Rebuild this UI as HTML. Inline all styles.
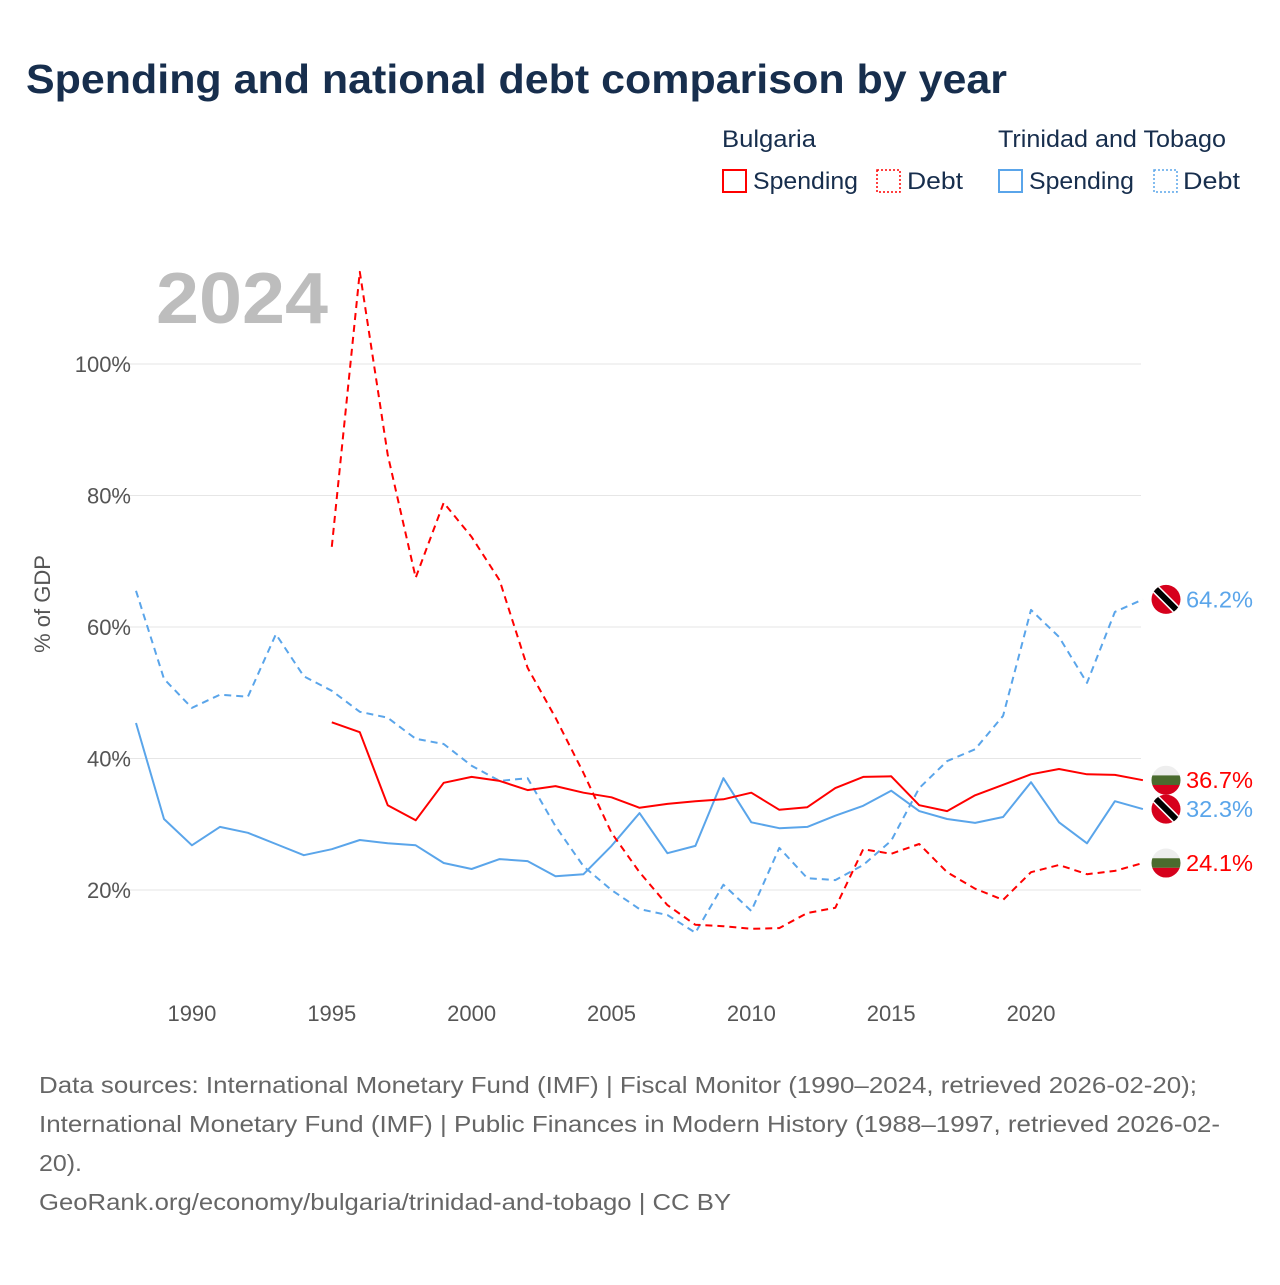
<!DOCTYPE html>
<html><head><meta charset="utf-8"><style>
body{margin:0;width:1280px;height:1280px;background:#fff;font-family:"Liberation Sans",sans-serif;overflow:hidden}
</style></head><body>
<svg id="chart" width="1280" height="1280" xmlns="http://www.w3.org/2000/svg" font-family="Liberation Sans, sans-serif">
<defs>
<clipPath id="cc"><circle cx="0" cy="0" r="14.5"/></clipPath>
</defs>
<text x="26" y="93" font-size="41" font-weight="bold" fill="#172e4d" textLength="981" lengthAdjust="spacingAndGlyphs">Spending and national debt comparison by year</text>
<g font-size="24" fill="#172e4d">
<text x="722" y="147" textLength="94" lengthAdjust="spacingAndGlyphs">Bulgaria</text>
<text x="998" y="147" textLength="228" lengthAdjust="spacingAndGlyphs">Trinidad and Tobago</text>
<g><rect x="723" y="170" width="23" height="22" fill="none" stroke="#f00" stroke-width="2"/><text x="753" y="189" textLength="105" lengthAdjust="spacingAndGlyphs">Spending</text></g>
<g><rect x="877" y="170" width="23" height="22" fill="none" stroke="#f00" stroke-width="1.5" stroke-dasharray="2 2"/><text x="907" y="189" textLength="56" lengthAdjust="spacingAndGlyphs">Debt</text></g>
<g><rect x="999" y="170" width="23" height="22" fill="none" stroke="#5aa5ea" stroke-width="2"/><text x="1029" y="189" textLength="105" lengthAdjust="spacingAndGlyphs">Spending</text></g>
<g><rect x="1154" y="170" width="23" height="22" fill="none" stroke="#5aa5ea" stroke-width="1.5" stroke-dasharray="2 2"/><text x="1183" y="189" textLength="57" lengthAdjust="spacingAndGlyphs">Debt</text></g>
</g>
<text x="156" y="323" font-size="72" font-weight="bold" fill="#bdbdbd" textLength="172" lengthAdjust="spacingAndGlyphs">2024</text>
<text transform="translate(50,604) rotate(-90)" text-anchor="middle" font-size="22" fill="#555">% of GDP</text>
<g id="grid"></g><g id="xt"></g><g id="series"></g><g id="ends"></g>
<g font-size="23" fill="#666">
<text x="39" y="1093" textLength="1158" lengthAdjust="spacingAndGlyphs">Data sources: International Monetary Fund (IMF) | Fiscal Monitor (1990–2024, retrieved 2026-02-20);</text>
<text x="39" y="1132" textLength="1181" lengthAdjust="spacingAndGlyphs">International Monetary Fund (IMF) | Public Finances in Modern History (1988–1997, retrieved 2026-02-</text>
<text x="39" y="1171" textLength="43" lengthAdjust="spacingAndGlyphs">20).</text>
<text x="39" y="1210" textLength="692" lengthAdjust="spacingAndGlyphs">GeoRank.org/economy/bulgaria/trinidad-and-tobago | CC BY</text>
</g>
</svg>
<script>
const yTicks=[20,40,60,80,100];
const xTicks=[1990,1995,2000,2005,2010,2015,2020];
const bgYears=[1995,1996,1997,1998,1999,2000,2001,2002,2003,2004,2005,2006,2007,2008,2009,2010,2011,2012,2013,2014,2015,2016,2017,2018,2019,2020,2021,2022,2023,2024];
const bgSpending=[45.5,44.0,32.9,30.6,36.3,37.2,36.6,35.2,35.8,34.8,34.1,32.5,33.1,33.5,33.8,34.8,32.2,32.6,35.5,37.2,37.3,32.9,32.0,34.4,36.0,37.6,38.4,37.6,37.5,36.7];
const bgDebt=[72.2,114.0,86.2,67.5,78.9,73.7,67.1,53.8,46.2,37.8,28.7,22.7,17.7,14.7,14.5,14.1,14.2,16.5,17.3,26.2,25.5,27.0,22.7,20.2,18.5,22.7,23.8,22.4,22.9,24.1];
const ttYears=[1988,1989,1990,1991,1992,1993,1994,1995,1996,1997,1998,1999,2000,2001,2002,2003,2004,2005,2006,2007,2008,2009,2010,2011,2012,2013,2014,2015,2016,2017,2018,2019,2020,2021,2022,2023,2024];
const ttSpending=[45.4,30.8,26.8,29.6,28.7,27.0,25.3,26.2,27.6,27.1,26.8,24.1,23.2,24.7,24.4,22.1,22.4,26.7,31.7,25.6,26.7,37.0,30.3,29.4,29.6,31.3,32.8,35.1,32.0,30.8,30.2,31.1,36.4,30.3,27.1,33.5,32.3];
const ttDebt=[65.5,52.1,47.7,49.7,49.4,58.9,52.5,50.3,47.1,46.2,43.0,42.2,38.9,36.6,37.0,29.7,23.6,20.0,17.1,16.2,13.5,20.8,16.8,26.4,21.8,21.5,23.8,27.5,35.5,39.6,41.4,46.5,62.6,58.5,51.5,62.3,64.2];
const NS='http://www.w3.org/2000/svg';
const X=yr=>136+(yr-1988)*27.97;
const Y=v=>890-(v-20)*6.575;
function mk(t,a,p){const e=document.createElementNS(NS,t);for(const k in a)e.setAttribute(k,a[k]);p.appendChild(e);return e;}
const grid=document.getElementById('grid');
yTicks.forEach(v=>{
 const l=mk('line',{x1:108,x2:1141,y1:Y(v),y2:Y(v),stroke:'#e6e6e6','stroke-width':1},grid);
 
 
 const t=mk('text',{x:131,y:Y(v)+8,'text-anchor':'end','font-size':22,fill:'#555'},grid);
 t.textContent=v+'%';
 
 
});
const xt=document.getElementById('xt');
xTicks.forEach(v=>{
 const t=mk('text',{x:X(v),y:1021,'text-anchor':'middle','font-size':22,fill:'#555'},xt);
 t.textContent=v;
 
 
});
const ser=document.getElementById('series');
function line(years,vals,color,dash,name){
 const d=years.map((y,i)=>(i?'L':'M')+X(y).toFixed(1)+','+Y(vals[i]).toFixed(1)).join('');
 const p=mk('path',{d:d,fill:'none',stroke:color,'stroke-width':2,'stroke-dasharray':dash||'none','stroke-linejoin':'round'},ser);
 
 
}
line(ttYears,ttSpending,'#5aa5ea',null,'line-tt-spending');
line(ttYears,ttDebt,'#5aa5ea','7 5','line-tt-debt');
line(bgYears,bgSpending,'#f00',null,'line-bg-spending');
line(bgYears,bgDebt,'#f00','7 5','line-bg-debt');
const ends=document.getElementById('ends');
function flag(v,kind,color,name){
 const g=mk('g',{transform:'translate(1166,'+Y(v)+')'},ends);
 
 
 const c=mk('g',{'clip-path':'url(#cc)'},g);
 if(kind==='bg'){
  mk('rect',{x:-15,y:-15,width:30,height:10.2,fill:'#eee'},c);
  mk('rect',{x:-15,y:-4.8,width:30,height:9.6,fill:'#4a6b2e'},c);
  mk('rect',{x:-15,y:4.8,width:30,height:10.2,fill:'#d6001c'},c);
 }else{
  mk('rect',{x:-15,y:-15,width:30,height:30,fill:'#d6001c'},c);
  mk('line',{x1:-16,y1:-16,x2:16,y2:16,stroke:'#fff','stroke-width':9},c);
  mk('line',{x1:-16,y1:-16,x2:16,y2:16,stroke:'#000','stroke-width':6},c);
 }
 const t=mk('text',{x:20,y:8,'font-size':23,fill:color,textLength:67,lengthAdjust:'spacingAndGlyphs'},g);
 t.textContent=v.toFixed(1)+'%';
}
flag(ttDebt[ttDebt.length-1],'tt','#5aa5ea','end-label-tt-debt');
flag(bgSpending[bgSpending.length-1],'bg','#f00','end-label-bg-spending');
flag(ttSpending[ttSpending.length-1],'tt','#5aa5ea','end-label-tt-spending');
flag(bgDebt[bgDebt.length-1],'bg','#f00','end-label-bg-debt');
</script>
</body></html>
